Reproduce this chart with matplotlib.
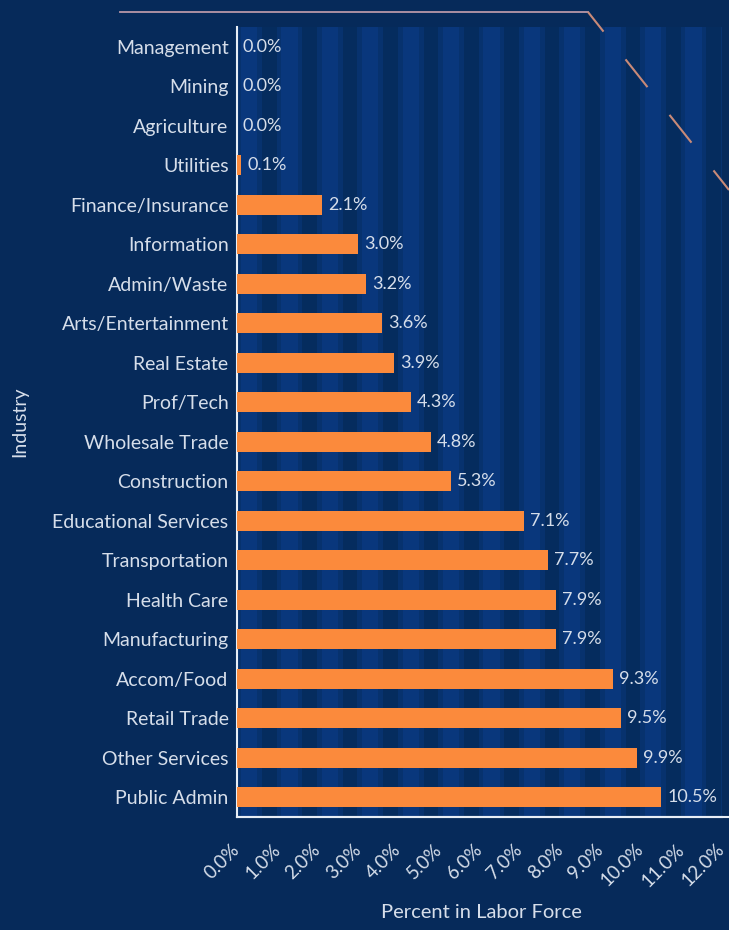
import numpy as np
import matplotlib.pyplot as plt
import matplotlib.transforms as mtransforms
from matplotlib.lines import Line2D

plt.rcParams['font.family'] = ['Lato', 'DejaVu Sans']

industries = ["Management", "Mining", "Agriculture", "Utilities", "Finance/Insurance",
              "Information", "Admin/Waste", "Arts/Entertainment", "Real Estate", "Prof/Tech",
              "Wholesale Trade", "Construction", "Educational Services", "Transportation",
              "Health Care", "Manufacturing", "Accom/Food", "Retail Trade", "Other Services",
              "Public Admin"]
pct = [0.0, 0.0, 0.0, 0.1, 2.1, 3.0, 3.2, 3.6, 3.9, 4.3, 4.8, 5.3, 7.1, 7.7, 7.9, 7.9,
       9.3, 9.5, 9.9, 10.5]
xticks = list(range(0, 13))

bg = '#062a5a'
band = '#0b3a82'
bar_col = '#fb8a3c'
txt = '#d6deea'

fig = plt.figure(figsize=(7.29, 9.30), dpi=100, facecolor=bg)
ax = fig.add_axes([0.325, 0.1215, 0.665, 0.8495])
ax.set_facecolor('#052c5e')

# soft vertical stripes behind the bars
for k in range(0, 13):
    c = k + 0.3
    ax.axvspan(c - 0.32, c + 0.32, color=band, alpha=0.45, lw=0, zorder=0)
    ax.axvspan(c - 0.2, c + 0.2, color=band, alpha=0.75, lw=0, zorder=0)

y = np.arange(len(industries))
ax.barh(y, pct, height=0.5, color=bar_col, zorder=3)
for yi, v in zip(y, pct):
    ax.text(v + 0.15, yi, f"{v:.1f}%", va='center', ha='left', color=txt,
            fontsize=13, zorder=4)

ax.set_ylim(len(industries) - 0.5, -0.5)
ax.set_xlim(0, 12)
ax.set_yticks(y)
ax.set_yticklabels(industries, fontsize=14, color=txt)
ax.set_xticks(xticks)
ax.set_xticklabels([f"{t:.1f}%" for t in xticks], rotation=45, ha='right',
                   rotation_mode='anchor', fontsize=13.5, color=txt)
ax.tick_params(axis='y', length=0, pad=6)
ax.tick_params(axis='x', length=0, pad=17)
shift = mtransforms.ScaledTranslation(-6 / 100, 0, fig.dpi_scale_trans)
for lab in ax.get_xticklabels():
    lab.set_transform(lab.get_transform() + shift)

for s in ['top', 'right']:
    ax.spines[s].set_visible(False)
for s in ['left', 'bottom']:
    ax.spines[s].set_color('#e8eef6')
    ax.spines[s].set_linewidth(1.5)

ax.set_ylabel("Industry", color=txt, fontsize=14)
ax.set_xlabel("Percent in Labor Force", color=txt, fontsize=14.5)
ax.yaxis.set_label_coords(-0.43, 0.5)
ax.xaxis.set_label_coords(0.505, -0.11)

# bottom rule runs to the figure edge
fig.add_artist(Line2D([0.325, 1.0], [0.1215, 0.1215], color='#e8eef6', lw=1.5))

# header rule with dashed slant on the right
W, H = 729, 930
fig.add_artist(Line2D([120 / W, 588 / W], [1 - 12 / H, 1 - 12 / H],
                      color='#b897a8', lw=1.3))
fig.add_artist(Line2D([588 / W, 729 / W], [1 - 12 / H, 1 - 190 / H],
                      color='#c98a78', lw=1.5, linestyle=(5, (17, 17))))

fig.savefig('out.png', dpi=100, facecolor=bg)
